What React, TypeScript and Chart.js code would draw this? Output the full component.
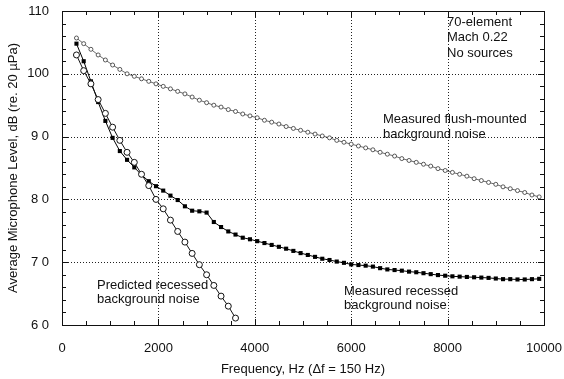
import React, { useEffect, useRef } from 'react';
import { Chart, registerables } from 'chart.js';

Chart.register(...registerables);

// Frequencies (Hz), Δf = 150 Hz
const FREQ_HZ = [
  300, 450, 600, 750, 900, 1050, 1200, 1350, 1500, 1650, 1800, 1950, 2100, 2250, 2400, 2550,
  2700, 2850, 3000, 3150, 3300, 3450, 3600, 3750, 3900, 4050, 4200, 4350, 4500, 4650, 4800,
  4950, 5100, 5250, 5400, 5550, 5700, 5850, 6000, 6150, 6300, 6450, 6600, 6750, 6900, 7050,
  7200, 7350, 7500, 7650, 7800, 7950, 8100, 8250, 8400, 8550, 8700, 8850, 9000, 9150, 9300,
  9450, 9600, 9750, 9900,
];

// Measured flush-mounted background noise (dB)
const FLUSH_DB = [
  105.7, 104.8, 103.9, 103.0, 102.2, 101.4, 100.7, 100.0, 99.6, 99.2, 98.8, 98.4, 98.0, 97.6,
  97.2, 96.8, 96.3, 95.8, 95.4, 95.0, 94.7, 94.3, 94.0, 93.6, 93.3, 93.0, 92.6, 92.3, 92.0,
  91.6, 91.3, 91.0, 90.7, 90.4, 90.1, 89.8, 89.4, 89.1, 88.8, 88.5, 88.2, 87.9, 87.5, 87.2,
  86.9, 86.5, 86.2, 85.9, 85.6, 85.3, 84.9, 84.6, 84.3, 84.0, 83.7, 83.3, 83.0, 82.7, 82.4,
  82.0, 81.7, 81.4, 81.1, 80.7, 80.4,
];

// Measured recessed background noise (dB)
const RECESSED_DB = [
  104.8, 102.0, 98.8, 95.5, 92.5, 89.8, 87.7, 86.3, 85.1, 83.9, 82.9, 82.1, 81.4, 80.6, 79.9,
  78.9, 78.2, 78.1, 77.9, 76.4, 75.6, 74.9, 74.4, 73.9, 73.65, 73.35, 73.05, 72.75, 72.45,
  72.15, 71.8, 71.45, 71.15, 70.85, 70.55, 70.35, 70.1, 69.9, 69.65, 69.55, 69.45, 69.3,
  69.05, 68.85, 68.75, 68.65, 68.5, 68.4, 68.25, 68.1, 67.95, 67.85, 67.75, 67.7, 67.65, 67.6,
  67.55, 67.5, 67.4, 67.3, 67.3, 67.25, 67.25, 67.3, 67.35,
];

// Predicted recessed background noise
const PREDICTED_FREQ_HZ = [
  300, 450, 600, 750, 900, 1050, 1200, 1350, 1500, 1650, 1800, 1950, 2100, 2250, 2400, 2550,
  2700, 2850, 3000, 3150, 3300, 3450, 3600,
];
const PREDICTED_DB = [
  103.0, 100.5, 98.4, 95.9, 93.7, 91.5, 89.4, 87.5, 85.9, 84.0, 82.2, 80.0, 78.5, 76.7, 74.9,
  73.2, 71.4, 69.6, 68.0, 66.3, 64.6, 63.0, 61.1,
];

const X_GRID = [2000, 4000, 6000, 8000];
const Y_GRID = [70, 80, 90, 100];
const Y_TICK_LABELS: Record<number, string> = {
  110: '110', 100: '100', 90: '9 0', 80: '8 0', 70: '7 0', 60: '6 0',
};

const FONT = '"Liberation Sans", Arial, Helvetica, sans-serif';

const framePlugin = {
  id: 'frameGrid',
  beforeDatasetsDraw(chart: any) {
    const { ctx, chartArea: a, scales } = chart;
    const x = scales.x;
    const y = scales.y;
    ctx.save();
    ctx.strokeStyle = '#222';
    ctx.lineWidth = 1;
    ctx.setLineDash([1, 2]);
    for (const v of X_GRID) {
      const px = Math.round(x.getPixelForValue(v)) + 0.5;
      ctx.beginPath();
      ctx.moveTo(px, a.top);
      ctx.lineTo(px, a.bottom);
      ctx.stroke();
    }
    for (const v of Y_GRID) {
      const py = Math.round(y.getPixelForValue(v)) + 0.5;
      ctx.beginPath();
      ctx.moveTo(a.left, py);
      ctx.lineTo(a.right, py);
      ctx.stroke();
    }
    ctx.setLineDash([]);
    ctx.strokeStyle = '#111';
    for (let v = 500; v < 10000; v += 500) {
      const px = Math.round(x.getPixelForValue(v)) + 0.5;
      const len = v % 2000 === 0 ? 6 : 4;
      ctx.beginPath();
      ctx.moveTo(px, a.bottom);
      ctx.lineTo(px, a.bottom - len);
      ctx.moveTo(px, a.top);
      ctx.lineTo(px, a.top + len);
      ctx.stroke();
    }
    for (let v = 62; v < 110; v += 2) {
      const py = Math.round(y.getPixelForValue(v)) + 0.5;
      const len = v % 10 === 0 ? 6 : 4;
      ctx.beginPath();
      ctx.moveTo(a.left, py);
      ctx.lineTo(a.left + len, py);
      ctx.moveTo(a.right, py);
      ctx.lineTo(a.right - len, py);
      ctx.stroke();
    }
    ctx.strokeRect(
      Math.round(a.left) + 0.5,
      Math.round(a.top) + 0.5,
      Math.round(a.right - a.left),
      Math.round(a.bottom - a.top)
    );
    ctx.restore();
  },
};

const textPlugin = {
  id: 'annotText',
  afterDatasetsDraw(chart: any) {
    const { ctx } = chart;
    ctx.save();
    ctx.fillStyle = '#111';
    ctx.font = `13px ${FONT}`;
    ctx.textAlign = 'left';
    ctx.textBaseline = 'middle';
    const put = (t: string, px: number, py: number) => ctx.fillText(t, px, py);
    put('70-element', 447, 22);
    put('Mach 0.22', 447, 37.5);
    put('No sources', 447, 53);
    put('Measured flush-mounted', 383, 119);
    put('background noise', 383, 134);
    put('Measured recessed', 344, 291);
    put('background noise', 344, 305);
    put('Predicted recessed', 97, 285);
    put('background noise', 97, 299);
    ctx.restore();
  },
};

const zeroPad = (s: any) => {
  s.paddingLeft = 0;
  s.paddingRight = 0;
  s.paddingTop = 0;
  s.paddingBottom = 0;
};

export default function App() {
  const ref = useRef<HTMLCanvasElement | null>(null);

  useEffect(() => {
    if (!ref.current) return;
    const flush = FREQ_HZ.map((f, i) => ({ x: f, y: FLUSH_DB[i] }));
    const recessed = FREQ_HZ.map((f, i) => ({ x: f, y: RECESSED_DB[i] }));
    const predicted = PREDICTED_FREQ_HZ.map((f, i) => ({ x: f, y: PREDICTED_DB[i] }));

    const chart = new Chart(ref.current, {
      type: 'line',
      data: {
        datasets: [
          {
            label: 'Measured flush-mounted background noise',
            data: flush,
            borderColor: '#444',
            borderWidth: 0.8,
            pointStyle: 'circle',
            pointRadius: 2,
            pointBorderWidth: 0.8,
            pointBorderColor: '#333',
            pointBackgroundColor: '#fff',
            tension: 0,
          },
          {
            label: 'Predicted recessed background noise',
            data: predicted,
            borderColor: '#111',
            borderWidth: 1,
            pointStyle: 'circle',
            pointRadius: 3,
            pointBorderWidth: 1,
            pointBorderColor: '#111',
            pointBackgroundColor: '#fff',
            tension: 0,
          },
          {
            label: 'Measured recessed background noise',
            data: recessed,
            borderColor: '#000',
            borderWidth: 1,
            pointStyle: 'rect',
            pointRadius: 2.9,
            pointBorderWidth: 0,
            pointBorderColor: '#000',
            pointBackgroundColor: '#000',
            tension: 0,
          },
        ],
      },
      options: {
        responsive: false,
        animation: false,
        devicePixelRatio: 1,
        layout: { padding: { top: 11, right: 20, left: 0, bottom: 0 } },
        plugins: {
          legend: { display: false },
          tooltip: { enabled: false },
        },
        scales: {
          x: {
            type: 'linear',
            min: 0,
            max: 10000,
            grid: { display: false, drawTicks: false },
            border: { display: false },
            ticks: {
              stepSize: 2000,
              padding: 16,
              color: '#111',
              font: { family: FONT, size: 13 },
              maxRotation: 0,
              callback: (v: any) => String(v),
            },
            title: {
              display: true,
              text: 'Frequency, Hz (\u0394f = 150 Hz)',
              color: '#111',
              font: { family: FONT, size: 13 },
              padding: { top: 0, bottom: 2 },
            },
            afterFit: (s: any) => {
              s.height = 54;
              zeroPad(s);
            },
          },
          y: {
            type: 'linear',
            min: 60,
            max: 110,
            grid: { display: false, drawTicks: false },
            border: { display: false },
            ticks: {
              stepSize: 10,
              padding: 13,
              color: '#111',
              font: { family: FONT, size: 13 },
              callback: (v: any) => Y_TICK_LABELS[v as number] ?? '',
            },
            title: {
              display: true,
              text: 'Average Microphone Level, dB (re. 20 \u00b5Pa)',
              color: '#111',
              font: { family: FONT, size: 13 },
              padding: { top: 6, bottom: 0 },
            },
            afterFit: (s: any) => {
              s.width = 62;
              zeroPad(s);
            },
          },
        },
      },
      plugins: [framePlugin, textPlugin],
    } as any);

    return () => chart.destroy();
  }, []);

  return (
    <div style={{ position: 'absolute', left: 0, top: 0, width: 564, height: 379, background: '#fff' }}>
      <canvas ref={ref} width={564} height={379} style={{ display: 'block' }} />
    </div>
  );
}
